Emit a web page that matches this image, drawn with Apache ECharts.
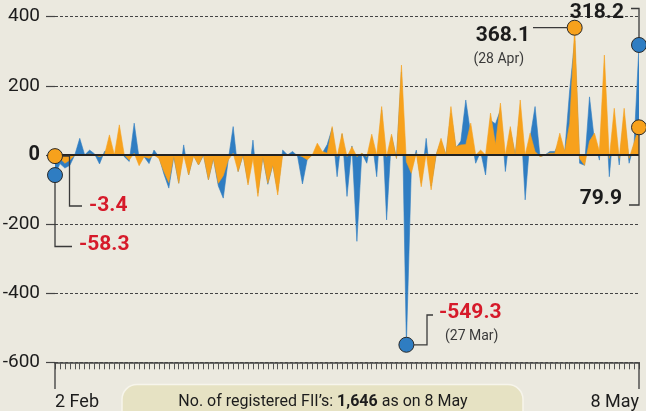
<!DOCTYPE html>
<html>
<head>
<meta charset="utf-8">
<script src="https://cdn.jsdelivr.net/npm/echarts@6/dist/echarts.min.js"></script>
<style>
  html, body { margin: 0; padding: 0; background: #ebe9df; }
  #chart { width: 646px; height: 411px; }
</style>
</head>
<body>
<div id="chart"></div>
<script>
const orange = [
  -3.4, -10, -24, -15, 0, 0, 0, 3, 0, -5,
  0, 58, 0, 87, 0, -15, 5, -31, -5, -10,
  0, -10, -48, -80, -3, -82, 0, -58, -3, -29,
  0, -72, -10, -82, -60, -15, 5, -48, 0, -87,
  -10, -120, -5, -82, -29, -116, 0, 0, 0, 0,
  -5, -14, 0, 34, 10, 5, 82, -5, 63, -5,
  24, -5, 5, -5, 60, 0, 140, -5, 60, -10,
  260, -20, -53, 5, -92, 5, -101, 0, 48, 0,
  140, 24, 29, 30, 92, 0, 14, 0, 121, 30,
  150, 0, 82, 0, 159, 0, 63, 10, -5, 0,
  5, 5, 63, 10, 92, 368.1, -10, -30, 40, 63,
  10, 289, -10, 135, -10, 135, -10, 35, 79.9
];
const blue = [
  -58.3, -25, -38, -30, 0, 48, 0, 14, 3, -26,
  10, 15, 0, 25, -5, -19, 92, -10, -5, -25,
  14, -5, -55, -96, -5, -82, 29, -58, 0, -29,
  0, -72, -10, -90, -125, -15, 82, -48, 0, -80,
  43, -110, -5, -85, -29, -105, 14, 0, 10, -3,
  -84, -10, 0, 10, 5, 30, 77, -63, 60, -120,
  26, -250, 5, -24, 50, -63, 130, -188, 55, -10,
  240, -549.3, -40, 14, -80, 48, -90, 0, 40, 0,
  120, 20, 40, 159, 60, -24, 10, -58, 100, 90,
  130, -48, 70, 0, 130, -130, 50, 140, -5, 0,
  10, 10, 40, 10, 188, 330, -24, -30, 168, 40,
  -15, 200, -63, 100, -29, 110, -24, 30, 318.2
];
const sessions = orange.map((_, i) => i);
const endLabels = ['2 Feb', '8 May'];
const yMin = -600, yMax = 400, yStep = 200;

// annotated points
const orangeMarks = [0, 105, 118];
const blueMarks = [0, 71, 118];

const ORANGE = '#f7a11c';
const BLUE = '#2f7dc2';
const RED = '#d61a2a';
const INK = '#1c1c1c';
const FONT = 'Roboto, "Liberation Sans", sans-serif';
const last = sessions.length - 1;

const chart = echarts.init(document.getElementById('chart'));

chart.setOption({
  animation: false,
  backgroundColor: '#ebe9df',
  textStyle: { fontFamily: FONT },
  grid: { left: 55, right: 7, top: 16.7, bottom: 48.7, outerBoundsMode: 'none' },
  xAxis: {
    type: 'category',
    data: sessions,
    boundaryGap: false,
    axisLine: { onZero: false, lineStyle: { color: '#444', width: 1.5 } },
    axisTick: { interval: 0, length: 7, lineStyle: { color: '#555', width: 1 } },
    axisLabel: {
      interval: (idx) => idx === 0 || idx === last,
      formatter: (v, idx) => (idx === 0 ? endLabels[0] : endLabels[1]),
      alignMinLabel: 'left',
      alignMaxLabel: 'right',
      margin: 31,
      fontSize: 18,
      color: INK,
      fontFamily: FONT
    },
    splitLine: { show: false }
  },
  yAxis: {
    type: 'value',
    min: yMin,
    max: yMax,
    interval: yStep,
    axisLine: { show: false },
    axisTick: { show: true, length: 9, lineStyle: { color: '#444', width: 1.2 } },
    axisLabel: {
      margin: 15,
      fontSize: 19,
      color: INK,
      fontFamily: FONT,
      formatter: (v) => (v === 0 ? '{b|0}' : String(v)),
      rich: { b: { fontSize: 20, fontWeight: 'bold', color: INK, fontFamily: FONT } }
    },
    splitLine: { lineStyle: { color: '#444', width: 1, type: [3, 2] } }
  },
  series: [
    {
      name: 'blue',
      type: 'line',
      data: blue,
      showSymbol: false,
      lineStyle: { width: 0.6, color: BLUE },
      areaStyle: { color: BLUE, opacity: 1 },
      z: 2
    },
    {
      name: 'orange',
      type: 'line',
      data: orange,
      showSymbol: false,
      lineStyle: { width: 0.6, color: ORANGE },
      areaStyle: { color: ORANGE, opacity: 1 },
      z: 3,
      markLine: {
        silent: true,
        symbol: 'none',
        label: { show: false },
        lineStyle: { color: '#222', width: 2, type: 'solid' },
        data: [{ yAxis: 0 }]
      }
    },
    {
      type: 'scatter',
      symbolSize: 15,
      z: 6,
      itemStyle: { color: BLUE, borderColor: '#2a2a2a', borderWidth: 1, opacity: 1 },
      data: blueMarks.map(i => [i, blue[i]])
    },
    {
      type: 'scatter',
      symbolSize: 15,
      z: 6,
      itemStyle: { color: ORANGE, borderColor: '#2a2a2a', borderWidth: 1, opacity: 1 },
      data: orangeMarks.map(i => [i, orange[i]])
    }
  ]
});

const px = (i, v) => chart.convertToPixel({ gridIndex: 0 }, [i, v]);
const line = (pts) => ({
  type: 'polyline',
  silent: true,
  z: 5,
  shape: { points: pts },
  style: { stroke: '#3a3a3a', lineWidth: 1.3, fill: null }
});
const txt = (text, x, y, opts) => ({
  type: 'text',
  silent: true,
  z: 7,
  style: Object.assign({
    text, x, y,
    fill: INK,
    font: 'bold 21px ' + FONT,
    textAlign: 'left', align: 'left',
    textVerticalAlign: 'middle', verticalAlign: 'middle'
  }, opts || {})
});
const right = { textAlign: 'right', align: 'right' };
const small = { font: '14px ' + FONT, fill: '#3a3a3a' };

const o0 = px(0, orange[0]);
const b0 = px(0, blue[0]);
const oPeak = px(105, orange[105]);
const bLow = px(71, blue[71]);
const oEnd = px(last, orange[last]);
const bEnd = px(last, blue[last]);
const axisStart = px(0, yMin);
const axisEnd = px(last, yMin);
const r = 7.5;

chart.setOption({
  graphic: [
    // long end ticks on the time axis
    line([[axisStart[0], axisStart[1]], [axisStart[0], 389]]),
    line([[axisEnd[0], axisEnd[1]], [axisEnd[0], 389]]),
    // connectors
    line([[o0[0] + r, o0[1]], [69.5, o0[1]], [69.5, 206], [82, 206]]),
    line([[b0[0], b0[1] + r], [b0[0], 246.5], [72, 246.5]]),
    line([[bLow[0] + r, bLow[1]], [427, bLow[1]], [427, 315], [433, 315]]),
    line([[533, oPeak[1]], [oPeak[0] - r, oPeak[1]]]),
    line([[bEnd[0], bEnd[1] - r], [bEnd[0], 8.5], [631, 8.5]]),
    line([[oEnd[0], oEnd[1] + r], [oEnd[0], 205], [629, 205]]),
    // value labels
    txt('-3.4', 89, 206, { fill: RED }),
    txt('-58.3', 79, 245, { fill: RED }),
    txt('-549.3', 439, 313, { fill: RED }),
    txt('(27 Mar)', 445, 336, small),
    txt('368.1', 530, 36, right),
    txt('(28 Apr)', 524, 59.5, Object.assign({}, small, right)),
    txt('318.2', 624, 13, right),
    txt('79.9', 622, 199, right),
    // footnote box
    {
      type: 'rect',
      silent: true,
      z: 1,
      shape: { x: 122, y: 384.5, width: 401, height: 40, r: [15, 15, 0, 0] },
      style: { fill: '#e6e2c3', stroke: '#f7f5ec', lineWidth: 1.5 }
    },
    {
      type: 'text',
      silent: true,
      z: 2,
      style: {
        x: 323, y: 402,
        textAlign: 'center', align: 'center',
        textVerticalAlign: 'middle', verticalAlign: 'middle',
        text: "{a|No. of registered FII’s: }{b|1,646}{a| as on 8 May}",
        rich: {
          a: { fontSize: 16, fontFamily: FONT, fill: INK, color: INK },
          b: { fontSize: 16, fontFamily: FONT, fontWeight: 'bold', fill: INK, color: INK }
        }
      }
    }
  ]
});
</script>
</body>
</html>
